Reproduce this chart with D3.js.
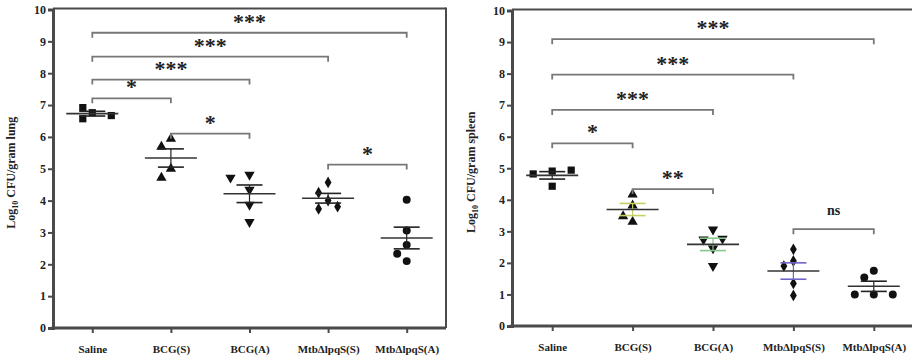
<!DOCTYPE html>
<html><head><meta charset="utf-8">
<script src="https://cdn.jsdelivr.net/npm/d3@7"></script>
<style>
body{margin:0;background:#fff}
svg{display:block}
text{font-family:"Liberation Serif","Times New Roman",serif;font-weight:bold;fill:#222}
</style>
</head><body><svg id="c" width="912" height="362"></svg>
<script>
// ---------------- data ----------------
const categories = ["Saline", "BCG(S)", "BCG(A)", "MtbΔlpqS(S)", "MtbΔlpqS(A)"];
const yTicks = [0, 1, 2, 3, 4, 5, 6, 7, 8, 9, 10];

// Log10 CFU / gram lung
const lungSaline = [6.76, 6.92, 6.57, 6.67];
const lungBCGS   = [5.94, 5.69, 5.0, 4.72];
const lungBCGA   = [4.81, 4.72, 4.34, 3.87, 3.33];
const lungMtbS   = [4.57, 4.25, 4.0, 3.74, 3.81];
const lungMtbA   = [4.03, 3.06, 2.61, 2.33, 2.1];

// Log10 CFU / gram spleen
const spleenSaline = [4.91, 4.82, 4.94, 4.43];
const spleenBCGS   = [4.17, 3.82, 3.3, 3.48];
const spleenBCGA   = [3.06, 2.74, 2.77, 2.46, 1.9];
const spleenMtbS   = [2.43, 2.06, 1.9, 1.35, 0.97];
const spleenMtbA   = [1.75, 1.54, 1.0, 1.0, 1.0];

// significance comparisons: [from group, to group], label, bracket level (log10 units)
const lungPairs   = [[0, 4], [0, 3], [0, 2], [0, 1], [1, 2], [3, 4]];
const lungLabels  = ["***", "***", "***", "*", "*", "*"];
const lungLevels  = [9.27, 8.52, 7.8, 7.21, 6.1, 5.13];

const spleenPairs  = [[0, 4], [0, 3], [0, 2], [0, 1], [1, 2], [3, 4]];
const spleenLabels = ["***", "***", "***", "*", "**", "ns"];
const spleenLevels = [9.09, 7.97, 6.85, 5.79, 4.34, 3.07];

// ---------------- drawing ----------------
const svg = d3.select("#c");
const axisColor = "#4a4a4a";
const symbols = [
  {type: d3.symbolSquare, size: 52, rot: 0},
  {type: d3.symbolTriangle, size: 46, rot: 0},
  {type: d3.symbolTriangle, size: 46, rot: 180},
  {type: d3.symbolDiamond, size: 40, rot: 0},
  {type: d3.symbolCircle, size: 50, rot: 0}
];

const panels = [
  {groups: [lungSaline, lungBCGS, lungBCGA, lungMtbS, lungMtbA],
   pairs: lungPairs, labels: lungLabels, levels: lungLevels,
   organ: "lung", x0: 53, x1: 446, yb: 328, yt: 9.5, right: true,
   labelX: 15, semColors: ["#222", "#222", "#222", "#222", "#222"]},
  {groups: [spleenSaline, spleenBCGS, spleenBCGA, spleenMtbS, spleenMtbA],
   pairs: spleenPairs, labels: spleenLabels, levels: spleenLevels,
   organ: "spleen", x0: 512, x1: 914, yb: 326, yt: 10.5, right: false,
   labelX: 475, semColors: ["#222", "#c5cf63", "#86c78a", "#6f63c9", "#222"]}
];

panels.forEach(p => {
  const g = svg.append("g");
  const x = d3.scalePoint().domain(categories).range([p.x0, p.x1]).padding(0.5);
  const y = d3.scaleLinear().domain([0, 10]).range([p.yb, p.yt]);

  // frame (top / right)
  g.append("line").attr("x1", p.x0).attr("x2", Math.min(p.x1, 912)).attr("y1", p.yt - 1).attr("y2", p.yt - 1)
    .attr("stroke", axisColor).attr("stroke-width", 2);
  if (p.right) {
    g.append("line").attr("x1", p.x1).attr("x2", p.x1).attr("y1", p.yt - 2).attr("y2", p.yb)
      .attr("stroke", axisColor).attr("stroke-width", 2);
  }

  // y axis
  const ya = g.append("g").attr("transform", `translate(${p.x0},0)`)
    .call(d3.axisLeft(y).tickValues(yTicks).tickSize(5).tickPadding(2).tickFormat(d3.format("d")));
  ya.select(".domain").attr("stroke", axisColor).attr("stroke-width", 3);
  ya.selectAll(".tick line").attr("stroke", axisColor).attr("stroke-width", 2);
  ya.selectAll(".tick text").attr("font-size", 12).attr("font-family", "Liberation Serif, serif")
    .attr("font-weight", "bold").attr("fill", "#333");

  // x axis
  const xa = g.append("g").attr("transform", `translate(0,${p.yb})`)
    .call(d3.axisBottom(x).tickSize(5).tickPadding(12).tickSizeOuter(0));
  xa.select(".domain").attr("stroke", axisColor).attr("stroke-width", 3)
    .attr("d", `M${p.x0 - 1.5},0H${Math.min(p.x1, 912)}`);
  xa.selectAll(".tick line").attr("stroke", axisColor).attr("stroke-width", 2);
  xa.selectAll(".tick text").attr("font-size", 11).attr("font-family", "Liberation Serif, serif")
    .attr("font-weight", "bold").attr("fill", "#222");

  // y label
  const lbl = g.append("text")
    .attr("transform", `translate(${p.labelX},${(p.yb + p.yt) / 2 + 4}) rotate(-90)`)
    .attr("text-anchor", "middle").attr("font-size", 12);
  lbl.append("tspan").text("Log");
  lbl.append("tspan").text("10").attr("font-size", 8).attr("dy", 3);
  lbl.append("tspan").text(" CFU/gram " + p.organ).attr("dy", -3);

  // points + mean/SEM
  p.groups.forEach((vals, gi) => {
    const cx = x(categories[gi]);
    const placed = [];
    const dstep = 9.5;
    vals.forEach(v => {
      const py = y(v);
      const cands = [0, -dstep, dstep, -2 * dstep, 2 * dstep];
      let off = 0;
      for (const c of cands) {
        if (placed.every(q => Math.hypot(q[0] - c, q[1] - py) >= 10.5)) { off = c; break; }
      }
      placed.push([off, py]);
    });
    const sym = symbols[gi];
    g.append("g").selectAll("path").data(placed).join("path")
      .attr("d", d3.symbol().type(sym.type).size(sym.size))
      .attr("transform", d => `translate(${cx + d[0]},${d[1]}) rotate(${sym.rot})`)
      .attr("fill", "#111");

    const m = d3.mean(vals);
    const sem = d3.deviation(vals) / Math.sqrt(vals.length);
    const sc = p.semColors[gi];
    g.append("line").attr("x1", cx - 13).attr("x2", cx + 13).attr("y1", y(m + sem)).attr("y2", y(m + sem))
      .attr("stroke", sc).attr("stroke-width", 1.6);
    g.append("line").attr("x1", cx - 13).attr("x2", cx + 13).attr("y1", y(m - sem)).attr("y2", y(m - sem))
      .attr("stroke", sc).attr("stroke-width", 1.6);
    g.append("line").attr("x1", cx).attr("x2", cx).attr("y1", y(m + sem)).attr("y2", y(m - sem))
      .attr("stroke", sc).attr("stroke-width", 1.2);
    g.append("line").attr("x1", cx - 26).attr("x2", cx + 26).attr("y1", y(m)).attr("y2", y(m))
      .attr("stroke", "#333").attr("stroke-width", 1.6);
  });

  // significance brackets
  p.pairs.forEach((pr, i) => {
    const xa1 = x(categories[pr[0]]), xa2 = x(categories[pr[1]]);
    const by = y(p.levels[i]);
    g.append("path")
      .attr("d", `M${xa1},${by + 5}V${by}H${xa2}V${by + 5}`)
      .attr("fill", "none").attr("stroke", "#777").attr("stroke-width", 1.8);
    const isNs = p.labels[i] === "ns";
    g.append("text")
      .attr("x", (xa1 + xa2) / 2)
      .attr("y", isNs ? by - 14 : by - 4)
      .attr("text-anchor", "middle")
      .attr("font-size", isNs ? 14 : 22)
      .attr("fill", "#111")
      .text(p.labels[i]);
  });
});
</script>
</body></html>
